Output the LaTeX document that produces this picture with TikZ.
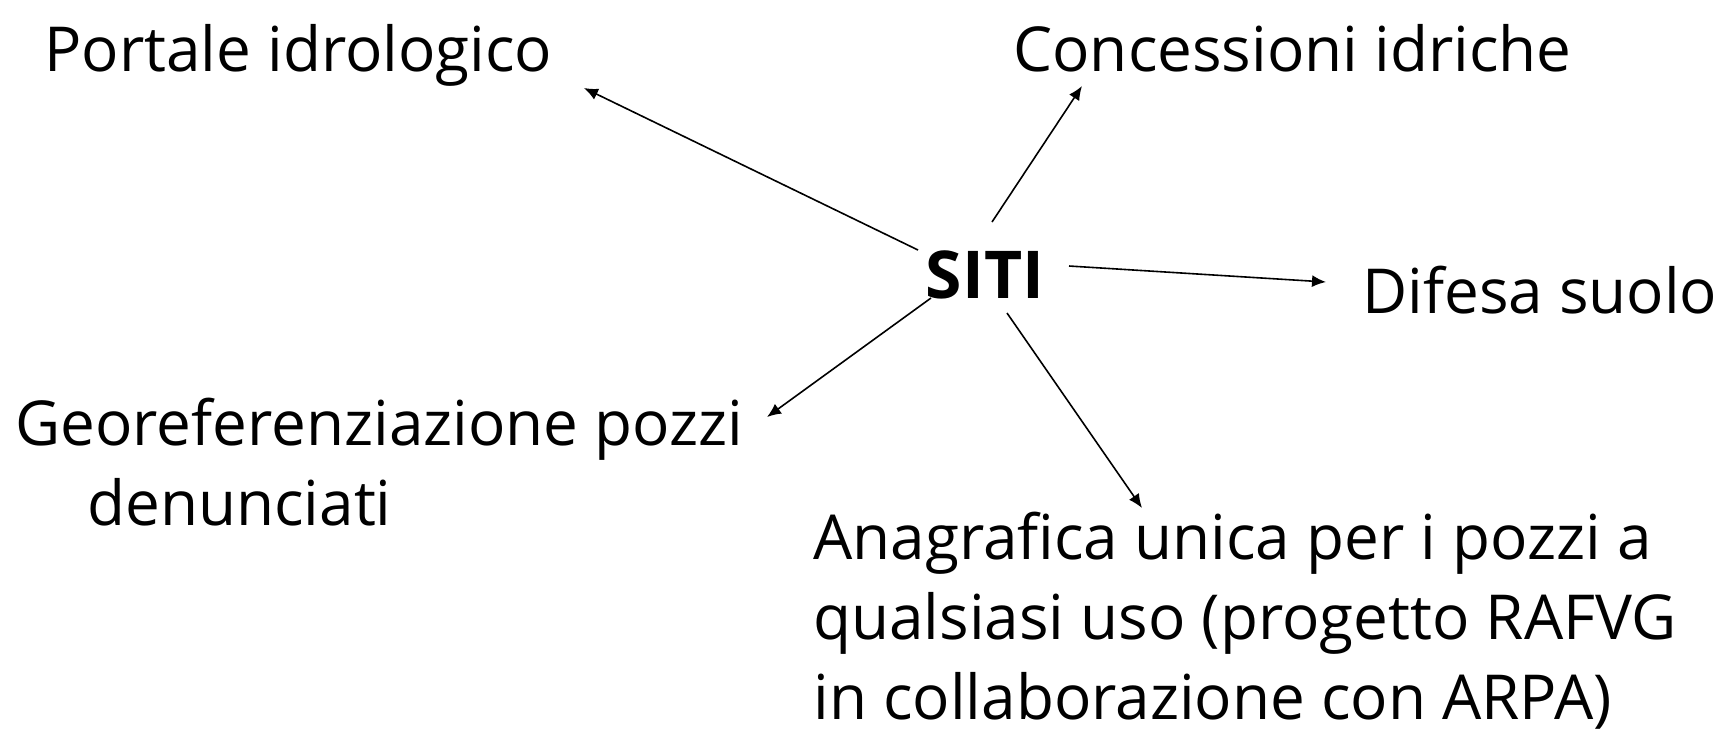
\documentclass[tikz,border=0pt]{standalone}
\usepackage{fontspec}
\setmainfont{Open Sans}
\usepackage{tikz}
\usetikzlibrary{arrows.meta}
\usetikzlibrary{calc}

\begin{document}
\begin{tikzpicture}[x=0.5pt, y=-0.5pt,
	every node/.style={inner sep=0pt, font=\fontsize{31}{40}\selectfont},
	lbl/.style={anchor=base west, align=left}]
\useasboundingbox (0,0) rectangle (1722,736);
\node (siti) [anchor=base, font=\fontsize{33}{40}\selectfont\bfseries] at (985,298) {SITI};
\node (portale) [lbl] at (44,71) {Portale idrologico};
\node (concessioni) [lbl] at (1013,71) {Concessioni idriche};
\node (difesa) [lbl] at (1362,313) {Difesa suolo};
\node (georef) [lbl] at (15,525) {Georeferenziazione pozzi\\\hspace*{36pt}denunciati};
\node (anagrafica) [lbl] at (813,719) {Anagrafica unica per i pozzi a\\qualsiasi uso (progetto RAFVG\\in collaborazione con ARPA)};
\path[-{Latex[length=7pt,width=6pt]}, line width=0.8pt]
($(siti.base)+(-67,-48)$) edge ($(portale.base west)+(540,17)$)
($(siti.base)+(7,-76)$) edge ($(concessioni.base west)+(69,15)$)
($(siti.base)+(84,-32)$) edge ($(difesa.base west)+(-36,-31)$)
($(siti.base)+(-54,0)$) edge ($(georef.base west)+(752,-108)$)
($(siti.base)+(22,15)$) edge ($(anagrafica.base west)+(329,-211)$);
\end{tikzpicture}
\end{document}
